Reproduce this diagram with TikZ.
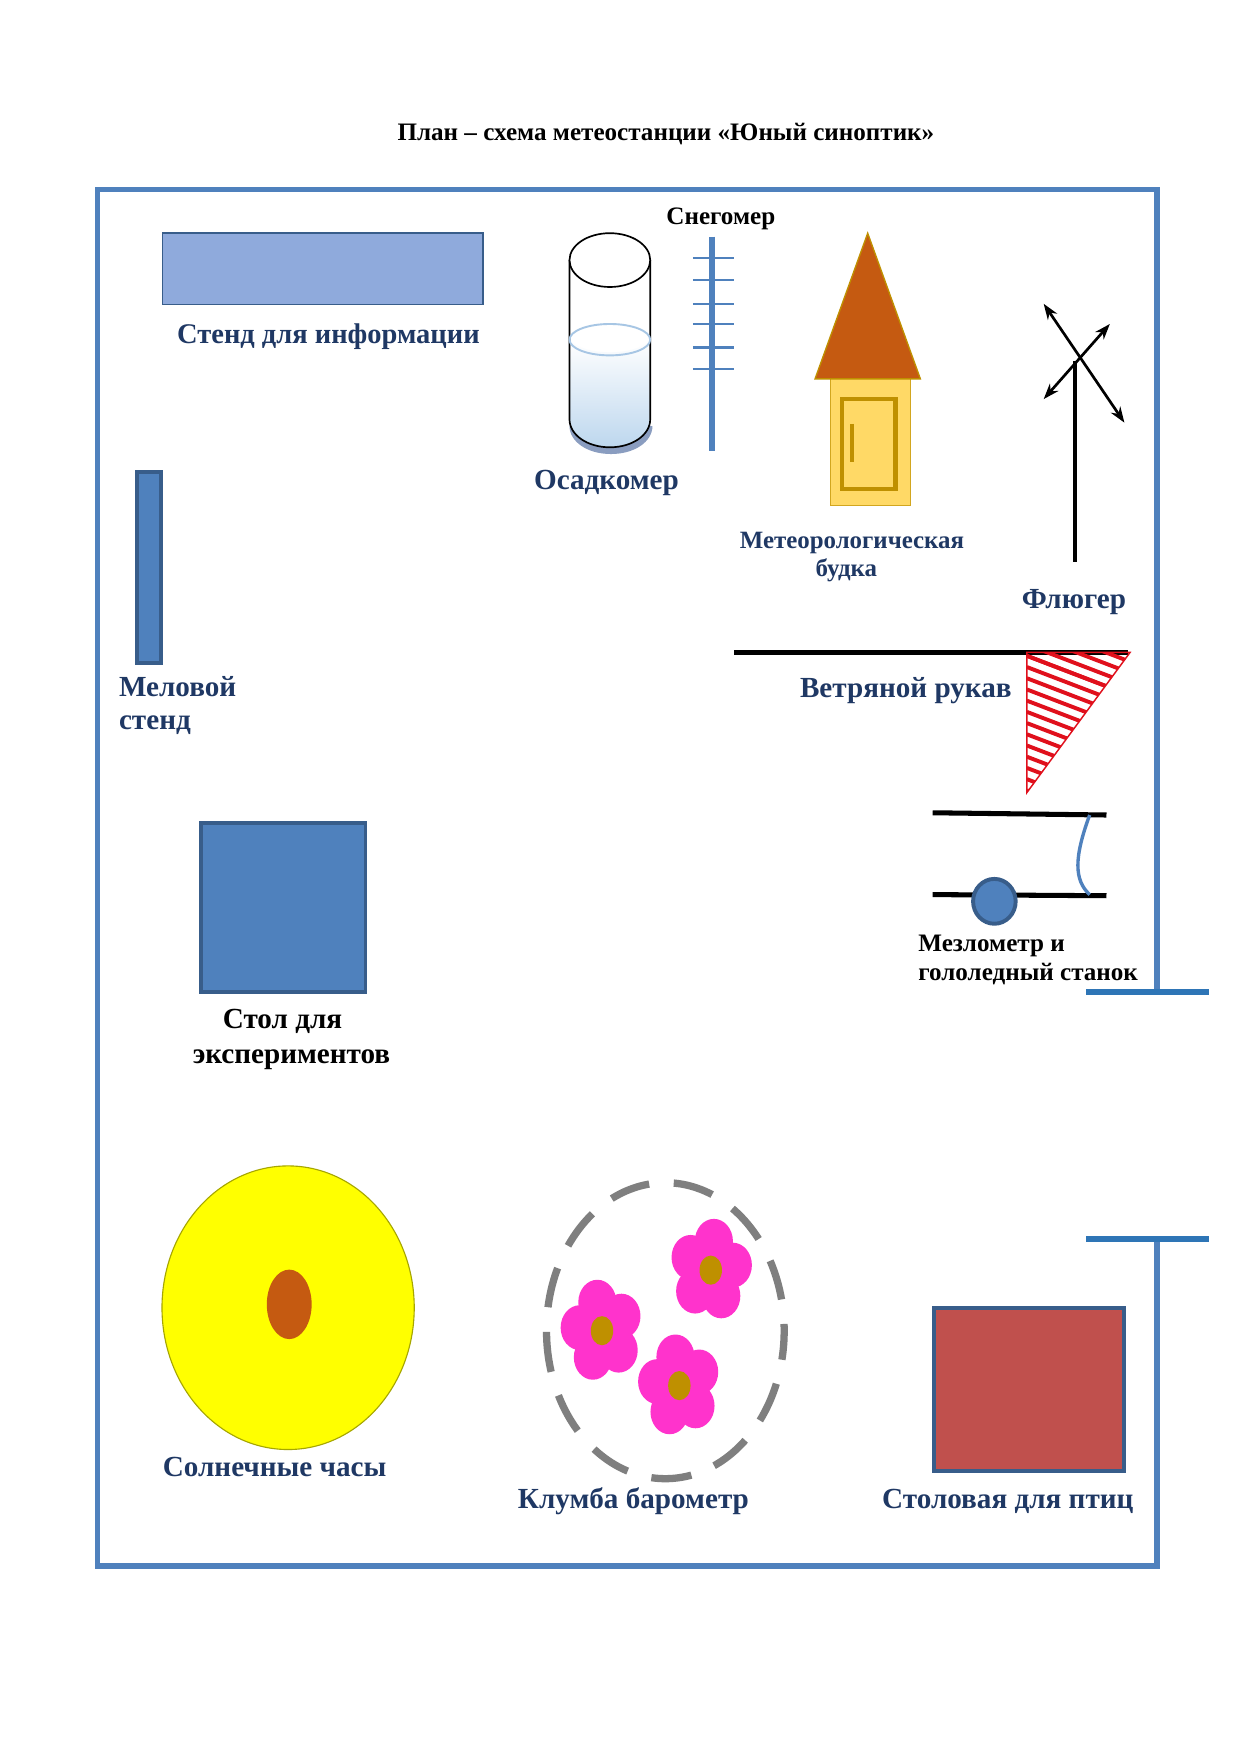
\documentclass[tikz,border=0pt]{standalone}
\usepackage{fontspec}
\setmainfont{Liberation Serif}
\usetikzlibrary{arrows.meta}
\definecolor{framecol}{HTML}{4F81BD}
\definecolor{barcol}{HTML}{2E75B6}
\definecolor{navy}{HTML}{1F3864}
\definecolor{edgecol}{HTML}{385D8A}
\definecolor{petal}{HTML}{FF33CC}
\definecolor{eye}{HTML}{BF9000}
\definecolor{roofcol}{HTML}{C55A11}
\definecolor{boothcol}{HTML}{FFD966}
\definecolor{standcol}{HTML}{8FAADC}
\definecolor{watercol}{HTML}{BDD7EE}
\definecolor{dinecol}{HTML}{C0504D}
\definecolor{suncol}{HTML}{FFFF00}
\definecolor{sunedge}{HTML}{A6A600}
\definecolor{ringcol}{HTML}{7F7F7F}
\definecolor{stripecol}{HTML}{E0101C}
\tikzset{
	navylabel/.style={font=\fontsize{26}{30}\selectfont\bfseries,text=navy,inner sep=0pt},
	blacklabel/.style={font=\fontsize{22.4}{26}\selectfont\bfseries,text=black,inner sep=0pt},
	box/.style={draw=edgecol,fill=framecol,line width=3.5pt},
	thickblack/.style={black,line width=4pt},
	vanearrow/.style={line width=2.4pt,{Stealth[length=14pt,width=10pt]}-{Stealth[length=14pt,width=10pt]}}
}
\begin{document}
\begin{tikzpicture}[x=1pt,y=-1pt] % план площадки

\useasboundingbox[fill=white] (0,0) rectangle (1107,1565.5);

\draw[framecol,line width=5pt] (1032,885) -- (1032,169) -- (87,169) -- (87,1397) -- (1032,1397) -- (1032,1105);
\draw[barcol,line width=5pt] (969,885) -- (1078,885);
\draw[barcol,line width=5pt] (969,1105) -- (1078,1105);

\node[blacklabel] (title) at (594,120) {План – схема метеостанции «Юный синоптик»};

\draw[fill=standcol,draw=edgecol,line width=1.3pt] (145,208) rectangle (431,271.5);
\node[navylabel,font=\fontsize{25.4}{30}\selectfont\bfseries] (standlabel) at (293,300) {Стенд для информации};

\draw[box] (122,421) rectangle (144,591.5);
\node[navylabel,align=left,anchor=north west] (chalklabel) at (106,603) {Меловой\\стенд};

\draw[box] (179.5,734) rectangle (326,885);
\node[navylabel,text=black] (tablelabel) at (252,911) {Стол для};
\node[navylabel,text=black] (tablelabelb) at (260,945) {экспериментов};

\filldraw[fill=standcol!70!gray,draw=none] (508,380) .. controls (508,394) and (524,405) .. (545,405) .. controls (566,405) and (582,394) .. (582,380) -- cycle; % осадкомер
\shade[top color=white,bottom color=watercol,middle color=watercol!50!white] (508,303) .. controls (520,318) and (568,318) .. (580,303) -- (580,374) .. controls (580,388) and (564,399) .. (544,399) .. controls (524,399) and (508,388) .. (508,374) -- cycle;
\draw[line width=1.5pt] (508,232) -- (508,374) .. controls (508,388) and (524,399) .. (544,399) .. controls (564,399) and (580,388) .. (580,374) -- (580,232);
\draw[line width=1.5pt,fill=white] (544,232) ellipse (36 and 24);
\draw[watercol!80!framecol,line width=1.7pt] (544,303) ellipse (36 and 14);
\node[navylabel] (gaugelabel) at (541,431) {Осадкомер};

\node[blacklabel] (snowlabel) at (643,195) {Снегомер};
\draw[framecol,line width=5.5pt] (635,211) -- (635,402);
\foreach \j in {230,250,271,289,310,329} % деления
{
	\draw[framecol,line width=2pt] (618,\j) -- (655,\j);
}

\draw[fill=boothcol,draw=eye!70!boothcol,line width=1pt] (741,338) rectangle (812,451); % будка
\draw[fill=roofcol,draw=eye,line width=1.2pt] (774,208) -- (821,338) -- (727,338) -- cycle;
\draw[eye,line width=4pt] (751,356) rectangle (799,436);
\draw[eye,line width=3.5pt] (760,378) -- (760,412);
\node[navylabel,font=\fontsize{22.2}{26}\selectfont\bfseries] (boothlabel) at (760,484) {Метеорологическая};
\node[navylabel,font=\fontsize{22.2}{26}\selectfont\bfseries] (boothlabelb) at (755,509) {будка};

\draw[thickblack] (959,501) -- (959,322); % флюгер
\draw[vanearrow] (931,271) -- (1003,377);
\draw[vanearrow] (931,356) -- (990,289);
\node[navylabel] (vanelabel) at (958,537) {Флюгер};

\draw[thickblack] (655,582) -- (1006,582);
\begin{scope}
	\clip (916,582) -- (1008,582) -- (916,707) -- cycle;
	\foreach \j in {0,1,...,13} % полосы
	{
		\draw[stripecol,line width=3.5pt] (916,585+10*\j) -- (1010,585+10*\j+36);
		\draw[stripecol,line width=3.5pt] (916,585-10*\j) -- (1010,585-10*\j+36);
	}
\end{scope}
\draw[stripecol,line width=1.3pt] (916,582) -- (1008,582) -- (916,707) -- cycle;
\node[navylabel] (sleevelabel) at (808,616) {Ветряной рукав};

\draw[thickblack,line width=4.5pt] (832,725) -- (987,727);
\draw[thickblack,line width=4.5pt] (832,798) -- (987,799);
\draw[framecol,line width=3pt] (972,727) .. controls (958,765) and (958,785) .. (972,798);
\draw[box] (887,804) ellipse (19 and 20);
\node[blacklabel,align=left,anchor=north west] (mezlabel) at (819,834) {Мезлометр и\\гололедный станок};

\draw[draw=sunedge,fill=suncol,line width=1pt] (257,1166.5) ellipse (112.5 and 126.5);
\fill[roofcol] (258,1163.5) ellipse (20 and 31);
\node[navylabel] (sunlabel) at (245,1309) {Солнечные часы};

\draw[ringcol,line width=6.5pt,dash pattern=on 36pt off 22pt,dash phase=10pt] (593.5,1187) ellipse (106 and 132);
\foreach \x/\y/\r in {634/1133/-8,537/1187/12,606/1236/10} % цветы
{
	\foreach \a in {90,162,234,306,378}
	{
		\fill[petal] ({\x+20*cos(\a+\r)},{\y-26*sin(\a+\r)}) ellipse (17 and 20);
	}
	\fill[eye] (\x,\y) ellipse (10 and 13);
}
\node[navylabel] (bedlabel) at (565,1339) {Клумба барометр};

\draw[fill=dinecol,draw=edgecol,line width=3.5pt] (833,1167) rectangle (1003,1312.5);
\node[navylabel] (dininglabel) at (899,1339) {Столовая для птиц};

\end{tikzpicture}
\end{document}
